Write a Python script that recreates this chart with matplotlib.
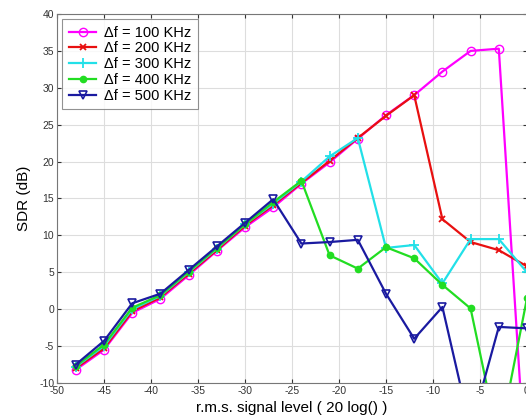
import matplotlib
matplotlib.use("Agg")
import matplotlib.pyplot as plt

plt.rcParams['font.family'] = ['Liberation Sans', 'DejaVu Sans']
plt.rcParams['axes.unicode_minus'] = False

x = [-48, -45, -42, -39, -36, -33, -30, -27, -24, -21, -18, -15, -12, -9, -6, -3, 0]
sdr_100 = [-8.2, -5.5, -0.5, 1.4, 4.6, 7.9, 11.1, 13.8, 17.0, 19.9, 23.1, 26.3, 29.0, 32.2, 35.0, 35.3, -25.0]
sdr_200 = [-8.0, -5.3, -0.3, 1.6, 4.8, 8.0, 11.3, 14.1, 17.1, 20.1, 23.2, 26.2, 29.0, 12.2, 9.1, 8.0, 5.8]
sdr_300 = [-7.8, -5.0, 0.0, 1.8, 5.0, 8.2, 11.5, 14.3, 17.3, 20.7, 23.2, 8.3, 8.7, 3.5, 9.5, 9.5, 5.0]
sdr_400 = [-7.7, -4.8, 0.2, 1.9, 5.1, 8.3, 11.5, 14.5, 17.4, 7.3, 5.5, 8.4, 6.9, 3.3, 0.1, -18.0, 1.5]
sdr_500 = [-7.5, -4.3, 0.8, 2.1, 5.3, 8.5, 11.7, 14.9, 8.9, 9.1, 9.4, 2.1, -4.0, 0.3, -16.3, -2.4, -2.6]

labels = ['\u0394f = 100 KHz', '\u0394f = 200 KHz', '\u0394f = 300 KHz',
          '\u0394f = 400 KHz', '\u0394f = 500 KHz']
xticks = [-50, -45, -40, -35, -30, -25, -20, -15, -10, -5, 0]
yticks = [-10, -5, 0, 5, 10, 15, 20, 25, 30, 35, 40]

fig = plt.figure(figsize=(5.26, 4.19), dpi=100)
ax = fig.add_axes([57/526, 1-383/419, (527-57)/526, (383-14)/419])

styles = [
    dict(color='#ff00ff', marker='o', mfc='none', ms=6, mew=1.0),
    dict(color='#e81010', marker='x', ms=5, mew=1.3),
    dict(color='#22e0e8', marker='+', ms=7, mew=1.3),
    dict(color='#22dd22', marker='o', ms=4.5, mew=1.0),
    dict(color='#1a1aa0', marker='v', mfc='none', ms=6, mew=1.2),
]
series = [sdr_100, sdr_200, sdr_300, sdr_400, sdr_500]
for ys, lab, st in zip(series, labels, styles):
    ax.plot(x, ys, lw=1.6, label=lab, **st)

ax.set_xlim(-50, 0)
ax.set_ylim(-10, 40)
ax.set_xticks(xticks)
ax.set_yticks(yticks)
ax.grid(True, color='#dddddd', lw=0.8)
ax.set_axisbelow(True)
ax.tick_params(direction='in', top=True, right=True, labelsize=7.5,
               colors='#333333', length=3, pad=2)
for s in ax.spines.values():
    s.set_color('#777777')
    s.set_linewidth(0.8)

ax.set_xlabel('r.m.s. signal level ( 20 log() )', fontsize=11, labelpad=4)
ax.set_ylabel('SDR (dB)', fontsize=11, labelpad=6)

leg = ax.legend(loc='upper left', fontsize=10.5, frameon=True, fancybox=False,
                edgecolor='#777777', handlelength=1.9, borderpad=0.45,
                labelspacing=0.12, handletextpad=0.55, borderaxespad=0.35)
leg.get_frame().set_linewidth(0.8)

fig.savefig('out.png', dpi=100)
